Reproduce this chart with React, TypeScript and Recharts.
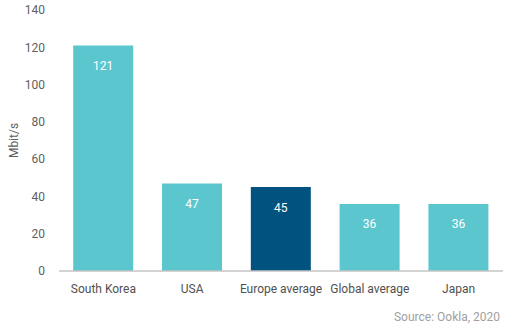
import { BarChart, Bar, XAxis, YAxis, Cell, LabelList } from 'recharts'

const countries = ['South Korea', 'USA', 'Europe average', 'Global average', 'Japan']
const speeds = [121, 47, 45, 36, 36]
const highlighted = ['Europe average']
const yTicks = [0, 20, 40, 60, 80, 100, 120, 140]

const TEAL = '#5cc6cf'
const NAVY = '#02527f'
const FONT = 'Roboto, "Noto Sans", sans-serif'

const data = countries.map((name, i) => ({ name, speed: speeds[i] }))

export default function App() {
  return (
    <div
      style={{
        position: 'absolute',
        left: 0,
        top: 0,
        width: 511,
        height: 328,
        background: '#fff',
        fontFamily: FONT,
      }}
    >
      <BarChart
        width={511}
        height={328}
        data={data}
        margin={{ top: 10, right: 8, left: 0, bottom: 27 }}
        barCategoryGap="16%"
      >
        <XAxis
          dataKey="name"
          height={30}
          tickSize={0}
          tickMargin={13}
          axisLine={{ stroke: '#c4c4c4', strokeWidth: 1.5 }}
          tick={{ fill: '#505050', fontSize: 12, fontFamily: FONT }}
          interval={0}
        />
        <YAxis
          width={59}
          domain={[0, 140]}
          ticks={yTicks}
          axisLine={false}
          tickLine={false}
          tickSize={0}
          tickMargin={14}
          tick={{ fill: '#606060', fontSize: 12, fontFamily: FONT }}
          label={{
            value: 'Mbit/s',
            angle: -90,
            position: 'insideLeft',
            offset: 14,
            style: { fill: '#606060', fontSize: 12, fontFamily: FONT, textAnchor: 'middle' },
          }}
        />
        <Bar dataKey="speed" isAnimationActive={false}>
          {data.map((d) => (
            <Cell key={d.name} fill={highlighted.includes(d.name) ? NAVY : TEAL} />
          ))}
          <LabelList
            dataKey="speed"
            position="insideTop"
            offset={16}
            style={{ fill: '#ffffff', fontSize: 12, fontFamily: FONT }}
          />
        </Bar>
      </BarChart>
      <div
        style={{
          position: 'absolute',
          right: 11,
          top: 310,
          fontSize: 12,
          color: '#a0a0a0',
        }}
      >
        Source: Ookla, 2020
      </div>
    </div>
  )
}
